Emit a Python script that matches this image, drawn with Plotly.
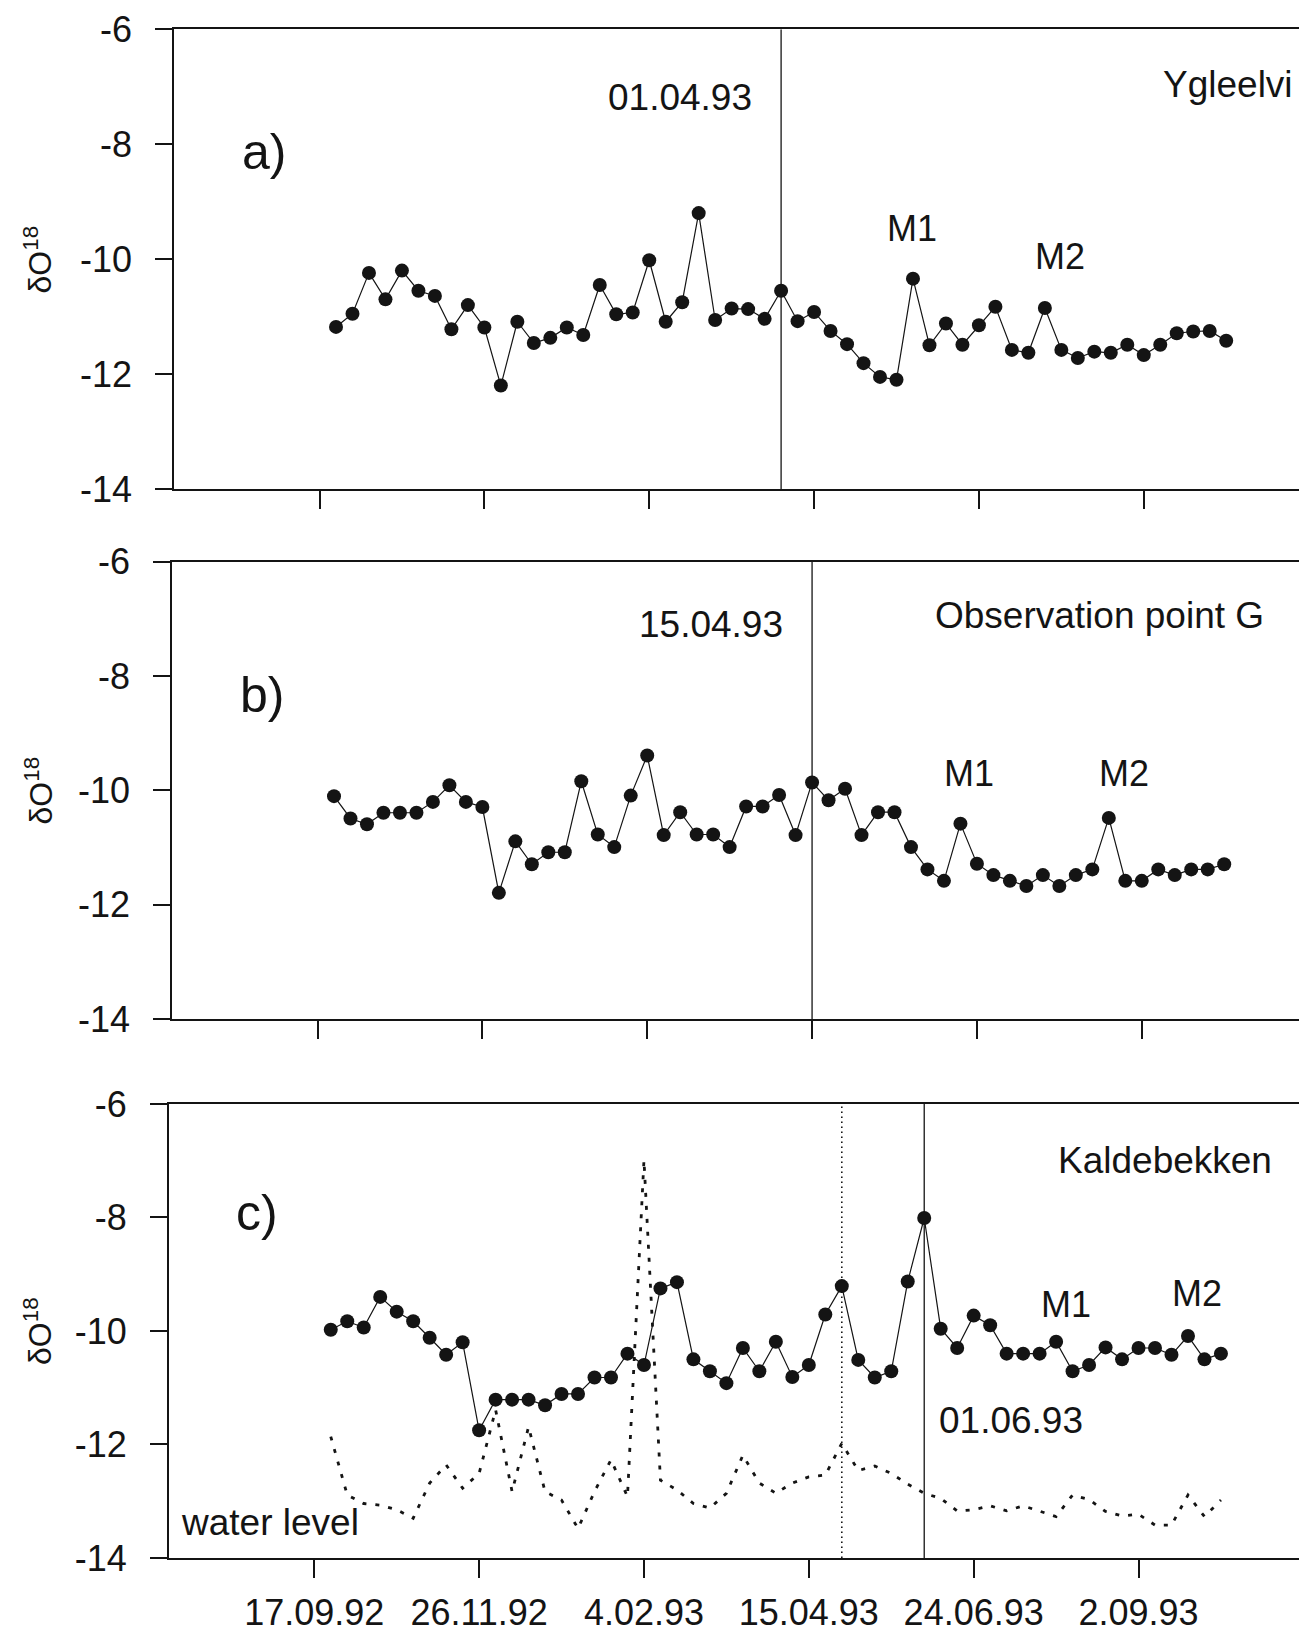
import plotly.graph_objects as go
from datetime import datetime, timedelta

# ---------------- data ----------------
dates = [
    "1992-09-24", "1992-10-01", "1992-10-08", "1992-10-15", "1992-10-22", "1992-10-29",
    "1992-11-05", "1992-11-12", "1992-11-19", "1992-11-26", "1992-12-03", "1992-12-10",
    "1992-12-17", "1992-12-24", "1992-12-31", "1993-01-07", "1993-01-14", "1993-01-21",
    "1993-01-28", "1993-02-04", "1993-02-11", "1993-02-18", "1993-02-25", "1993-03-04",
    "1993-03-11", "1993-03-18", "1993-03-25", "1993-04-01", "1993-04-08", "1993-04-15",
    "1993-04-22", "1993-04-29", "1993-05-06", "1993-05-13", "1993-05-20", "1993-05-27",
    "1993-06-03", "1993-06-10", "1993-06-17", "1993-06-24", "1993-07-01", "1993-07-08",
    "1993-07-15", "1993-07-22", "1993-07-29", "1993-08-05", "1993-08-12", "1993-08-19",
    "1993-08-26", "1993-09-02", "1993-09-09", "1993-09-16", "1993-09-23", "1993-09-30",
    "1993-10-07",
]

ygleelvi = [
    -11.18, -10.95, -10.24, -10.70, -10.20, -10.55, -10.64, -11.22, -10.80, -11.19,
    -12.20, -11.09, -11.46, -11.37, -11.19, -11.32, -10.45, -10.96, -10.93, -10.02,
    -11.09, -10.75, -9.20, -11.06, -10.86, -10.87, -11.04, -10.55, -11.08, -10.92,
    -11.25, -11.48, -11.81, -12.05, -12.10, -10.34, -11.50, -11.12, -11.49, -11.15,
    -10.83, -11.58, -11.63, -10.85, -11.58, -11.72, -11.61, -11.63, -11.49, -11.67,
    -11.49, -11.29, -11.26, -11.25, -11.42,
]

observation_g = [
    -10.10, -10.49, -10.59, -10.39, -10.39, -10.39, -10.20, -9.91, -10.20, -10.29,
    -11.79, -10.89, -11.29, -11.08, -11.08, -9.84, -10.77, -10.99, -10.09, -9.39,
    -10.78, -10.38, -10.77, -10.77, -10.99, -10.28, -10.28, -10.08, -10.78, -9.86,
    -10.17, -9.97, -10.78, -10.38, -10.38, -10.99, -11.38, -11.58, -10.58, -11.28,
    -11.48, -11.58, -11.67, -11.48, -11.67, -11.48, -11.38, -10.48, -11.58, -11.58,
    -11.38, -11.48, -11.38, -11.38, -11.29,
]

kaldebekken = [
    -9.98, -9.83, -9.94, -9.40, -9.66, -9.83, -10.12, -10.42, -10.20, -11.75,
    -11.21, -11.21, -11.21, -11.31, -11.11, -11.11, -10.82, -10.82, -10.40, -10.60,
    -9.25, -9.14, -10.50, -10.71, -10.92, -10.30, -10.71, -10.19, -10.81, -10.60,
    -9.71, -9.21, -10.51, -10.82, -10.71, -9.13, -8.01, -9.96, -10.30, -9.73,
    -9.90, -10.40, -10.40, -10.40, -10.19, -10.71, -10.60, -10.29, -10.50, -10.30,
    -10.30, -10.42, -10.09, -10.50, -10.40,
]

water_level = [
    -11.86, -12.89, -13.04, -13.07, -13.15, -13.30, -12.68, -12.36, -12.77, -12.51,
    -11.39, -12.83, -11.69, -12.83, -12.98, -13.48, -12.83, -12.27, -12.92, -6.99,
    -12.63, -12.80, -13.04, -13.12, -12.86, -12.19, -12.68, -12.86, -12.68, -12.57,
    -12.54, -11.98, -12.46, -12.38, -12.51, -12.70, -12.86, -12.95, -13.17, -13.15,
    -13.08, -13.17, -13.08, -13.17, -13.27, -12.89, -12.97, -13.18, -13.26, -13.23,
    -13.42, -13.42, -12.89, -13.27, -12.98,
]

y_tickvals = [-14, -12, -10, -8, -6]
y_ticktext = ["-14", "-12", "-10", "-8", "-6"]
x_tickvals = ["1992-09-17", "1992-11-26", "1993-02-04", "1993-04-15", "1993-06-24", "1993-09-02"]
x_ticktext = ["17.09.92", "26.11.92", "4.02.93", "15.04.93", "24.06.93", "2.09.93"]

marker_lines = [("1993-04-01", "solid"), ("1993-04-15", "solid"),
                ("1993-04-29", "dot"), ("1993-06-03", "solid")]

# ---------------- layout helpers ----------------
PAGE_OFF = 8                      # default body margin of the html page
W, H = 1307 - PAGE_OFF, 1632 - PAGE_OFF
FONT = "Liberation Sans, Arial, Helvetica, sans-serif"
INK = "#141414"


def fx(p):
    return (p - PAGE_OFF) / W


def fy(p):
    return 1 - (p - PAGE_OFF) / H


PX_PER_DAY = 2.355
PLOT_W = 1131.5
x_start = datetime(1992, 7, 17, 5, 0)
x_end = x_start + timedelta(days=PLOT_W / PX_PER_DAY)
x_range = [x_start.strftime("%Y-%m-%d %H:%M"), x_end.strftime("%Y-%m-%d %H:%M")]

panels = [
    dict(left=174.0, top=29.2, bottom=489.0, series=ygleelvi),
    dict(left=172.0, top=561.6, bottom=1019.3, series=observation_g),
    dict(left=168.75, top=1103.9, bottom=1558.0, series=kaldebekken),
]

fig = go.Figure()
layout = dict(
    width=W, height=H,
    margin=dict(l=0, r=0, t=0, b=0, pad=0, autoexpand=False),
    paper_bgcolor="white", plot_bgcolor="white",
    showlegend=False,
    font=dict(family=FONT, color=INK, size=36),
)

for i, p in enumerate(panels):
    n = "" if i == 0 else str(i + 1)
    xa, ya = "x" + n, "y" + n
    layout["xaxis" + n] = dict(
        domain=[fx(p["left"]), fx(p["left"] + PLOT_W)],
        range=x_range, type="date", anchor=ya, automargin=False,
        tickmode="array", tickvals=x_tickvals, ticktext=x_ticktext,
        showticklabels=(i == 2), ticks="outside", ticklen=18, tickwidth=1.5,
        tickcolor=INK, showline=True, linewidth=1.6, linecolor=INK, mirror=True,
        showgrid=False, zeroline=False,
        tickfont=dict(family=FONT, size=36, color=INK), ticklabelstandoff=4,
    )
    layout["yaxis" + n] = dict(
        domain=[fy(p["bottom"]), fy(p["top"])],
        range=[-14, -6], anchor=xa, automargin=False,
        tickmode="array", tickvals=y_tickvals, ticktext=y_ticktext,
        ticks="outside", ticklen=17, tickwidth=1.5, tickcolor=INK,
        showline=True, linewidth=1.6, linecolor=INK, mirror=True,
        showgrid=False, zeroline=False,
        tickfont=dict(family=FONT, size=36, color=INK), ticklabelstandoff=16,
    )
    fig.add_trace(go.Scatter(
        x=dates, y=p["series"], xaxis=xa, yaxis=ya, mode="lines+markers",
        line=dict(color=INK, width=1.2),
        marker=dict(symbol="circle", size=14, color=INK, line=dict(width=0)),
        cliponaxis=False,
    ))

fig.add_trace(go.Scatter(
    x=dates, y=water_level, xaxis="x3", yaxis="y3", mode="lines",
    line=dict(color=INK, width=2.8, dash="4px,9px"),
))

shapes = []
for (d, style), axn in zip(marker_lines, ["", "2", "3", "3"]):
    shapes.append(dict(
        type="line", xref="x" + axn, yref="y" + axn, x0=d, x1=d, y0=-14, y1=-6,
        line=dict(color=INK, width=1.3 if style == "solid" else 1.6,
                  dash="solid" if style == "solid" else "1.5px,3.5px"),
        layer="below",
    ))
layout["shapes"] = shapes

texts = [
    # panel a
    ("01.04.93", 680, 97, 37), ("Ygleelvi", 1228, 84, 37), ("a)", 264, 152, 50),
    ("M1", 912, 228, 36), ("M2", 1060, 257, 36),
    # panel b
    ("15.04.93", 711, 624, 37), ("Observation point G", 1099, 615, 37), ("b)", 262, 695, 50),
    ("M1", 969, 773, 36), ("M2", 1124, 773, 36),
    # panel c
    ("c)", 257, 1213, 50), ("Kaldebekken", 1165, 1160, 37),
    ("M1", 1066, 1304, 36), ("M2", 1197, 1293, 36),
    ("01.06.93", 1011, 1420, 37), ("water level", 270, 1522, 37),
]
annotations = []
for t, x, y, s in texts:
    annotations.append(dict(
        text=t, x=fx(x), y=fy(y), xref="paper", yref="paper",
        xanchor="center", yanchor="middle", showarrow=False,
        font=dict(family=FONT, size=s, color=INK),
    ))
for yc in (259.5, 790.5, 1331):
    annotations.append(dict(
        text="δO<sup>18</sup>", x=fx(38), y=fy(yc), xref="paper", yref="paper",
        xanchor="center", yanchor="middle", showarrow=False, textangle=-90,
        font=dict(family=FONT, size=32, color=INK),
    ))
layout["annotations"] = annotations

fig.update_layout(**layout)
fig.write_html("out.html")
